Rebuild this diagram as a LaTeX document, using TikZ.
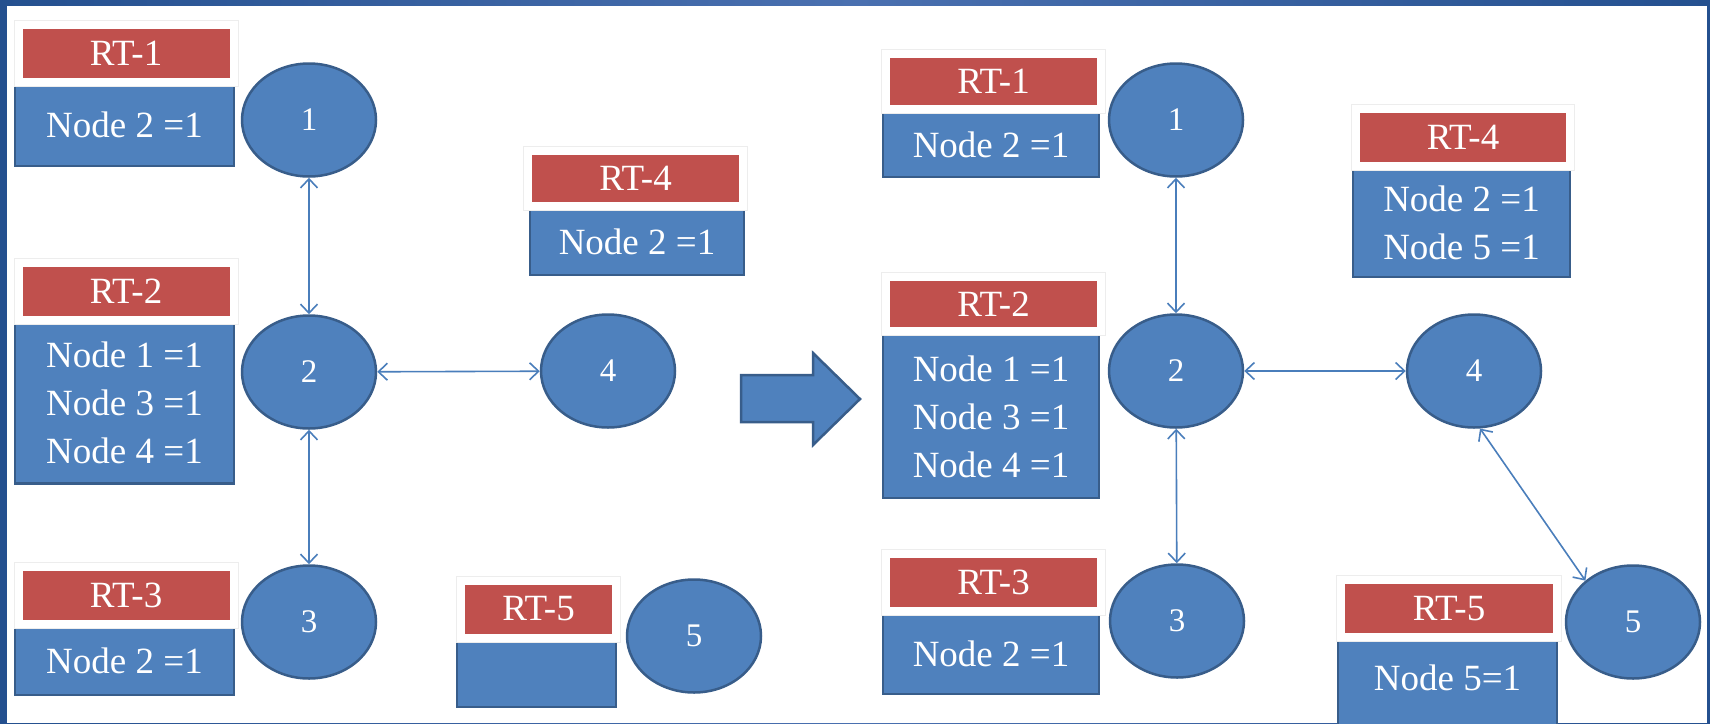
\documentclass[tikz,border=0pt]{standalone}
\usepackage{fontspec}
\setmainfont{Liberation Serif}
\usetikzlibrary{arrows.meta,shapes.geometric}
\definecolor{rtred}{HTML}{C0504D}
\definecolor{rtblue}{HTML}{4F81BD}
\definecolor{rtedge}{HTML}{385D8A}
\definecolor{linkblue}{HTML}{4A7EBB}
\definecolor{framedark}{HTML}{24508F}
\definecolor{framelight}{HTML}{4A70B0}
\tikzset{
  rthead/.style={fill=rtred, draw=white, line width=8pt, text=white, inner sep=0pt,
    minimum width=215pt, minimum height=57pt, font=\fontsize{37}{44}\selectfont,
    preaction={draw=black!7, line width=10pt}},
  rtbody/.style={fill=rtblue, draw=rtedge, line width=2.5pt, text=white, inner sep=0pt,
    align=center, font=\fontsize{37}{48}\selectfont},
  router/.style={ellipse, fill=rtblue, draw=rtedge, line width=2.5pt, text=white, inner sep=0pt,
    minimum width=134pt, minimum height=113pt, font=\fontsize{33}{38}\selectfont},
  link/.style={<->, draw=linkblue, line width=1.6pt, >={Straight Barb[length=9pt,width=17pt]}},
  bigarrow/.style={fill=rtblue, draw=rtedge, line width=2.5pt, line join=miter}
}
\begin{document}
\begin{tikzpicture}[x=1pt,y=-1pt]
\useasboundingbox (0,0) rectangle (1710,723);
% frame
\shade[left color=framedark, right color=framedark, middle color=framelight] (0,0) rectangle (1710,723);
\fill[white] (7,6) rectangle (1707,723);

% before: routing tables
\node[rtbody, minimum width=219pt, minimum height=83pt] (lb1) at (124.5,124.5) {Node 2 =1};
\node[rthead] (lh1) at (126,53) {RT-1};
\node[rtbody, minimum width=219pt, minimum height=161pt] (lb2) at (124.5,403) {Node 1 =1\\Node 3 =1\\Node 4 =1};
\node[rthead] (lh2) at (126,291.5) {RT-2};
\node[rtbody, minimum width=219pt, minimum height=69pt] (lb3) at (124.5,660.5) {Node 2 =1};
\node[rthead] (lh3) at (126,595) {RT-3};
\node[rtbody, minimum width=214pt, minimum height=66pt] (lb4) at (637,242) {Node 2 =1};
\node[rthead, minimum height=55pt] (lh4) at (635.5,178.5) {RT-4};
\node[rtbody, minimum width=159pt, minimum height=67pt] (lb5) at (536.5,673.5) {};
\node[rthead, minimum width=155pt] (lh5) at (538.5,609) {RT-5};

% before: routers
\node[router] (l1) at (309,120) {1};
\node[router] (l2) at (309,372) {2};
\node[router] (l3) at (309,622) {3};
\node[router] (l4) at (608,371) {4};
\node[router] (l5) at (694,636) {5};
\draw[link] (l1) -- (l2);
\draw[link] (l2) -- (l3);
\draw[link] (l2) -- (l4);

% step
\draw[bigarrow] (741,375) -- (813,375) -- (813,353) -- (860,399) -- (813,445) -- (813,422) -- (741,422) -- cycle;

% after: routing tables
\node[rtbody, minimum width=216pt, minimum height=65pt] (rb1) at (991,144.5) {Node 2 =1};
\node[rthead, minimum height=55pt] (rh1) at (993.5,81.5) {RT-1};
\node[rtbody, minimum width=216pt, minimum height=163pt] (rb2) at (991,416.5) {Node 1 =1\\Node 3 =1\\Node 4 =1};
\node[rthead, minimum height=54pt] (rh2) at (993.5,304) {RT-2};
\node[rtbody, minimum width=216pt, minimum height=81pt] (rb3) at (991,653.5) {Node 2 =1};
\node[rthead] (rh3) at (993.5,582) {RT-3};
\node[rtbody, minimum width=217pt, minimum height=109pt] (rb4) at (1461.5,222.5) {Node 2 =1\\Node 5 =1};
\node[rthead, minimum width=214pt] (rh4) at (1463,137.5) {RT-4};
\node[rtbody, minimum width=219pt, minimum height=95pt, text depth=20pt] (rb5) at (1447.5,687.5) {Node 5=1};
\node[rthead, minimum width=216pt] (rh5) at (1449,608.5) {RT-5};

% after: routers
\node[router] (r1) at (1176,120) {1};
\node[router] (r2) at (1176,371) {2};
\node[router] (r3) at (1177,621) {3};
\node[router] (r4) at (1474,371) {4};
\node[router] (r5) at (1633,622) {5};
\draw[link] (r1) -- (r2);
\draw[link] (r2) -- (r3);
\draw[link] (r2) -- (r4);
\draw[link] (r4.-84) -- (r5.139);
\end{tikzpicture}
\end{document}
